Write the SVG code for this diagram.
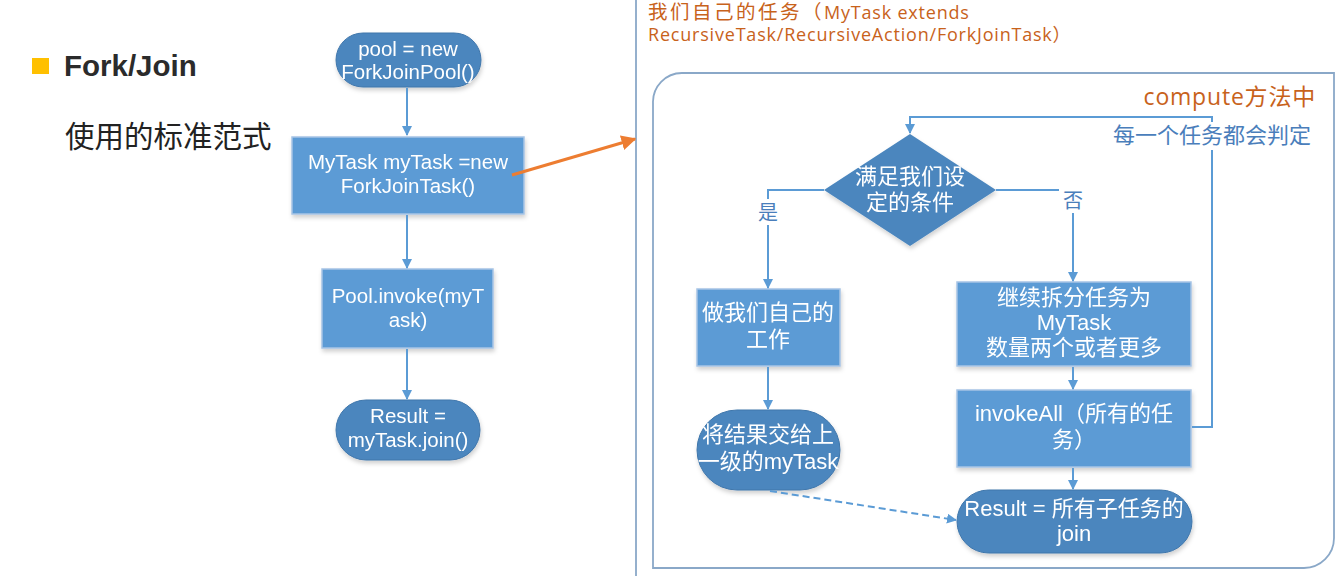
<svg xmlns="http://www.w3.org/2000/svg" width="1340" height="576" viewBox="0 0 1340 576">
<defs>
<style>
.box{fill:#5B9BD5;stroke:#A7C4E5;stroke-width:1.5}
.term{fill:#4B86BE;stroke:#3F76AB;stroke-width:1}
.t{font-family:"Liberation Sans","Noto Sans CJK SC",sans-serif;fill:#fff;text-anchor:middle;font-size:20.5px}
.c{font-family:"Liberation Sans","Noto Sans CJK SC",sans-serif;fill:#fff;text-anchor:middle;font-size:22px}
.ln{fill:none;stroke:#5B9BD5;stroke-width:2}
.or{font-family:"Open Sans","Noto Sans CJK SC",sans-serif;fill:#C8621B}
.lb{font-family:"Noto Sans CJK SC",sans-serif;fill:#4A7EBB;text-anchor:middle}
</style>
<marker id="ah" viewBox="0 0 10 10" refX="9" refY="5" markerWidth="5" markerHeight="5" orient="auto" markerUnits="strokeWidth">
<path d="M0,0 L10,5 L0,10 z" fill="#5B9BD5"/>
</marker>
<marker id="aho" viewBox="0 0 10 10" refX="9" refY="5" markerWidth="5" markerHeight="5" orient="auto" markerUnits="strokeWidth">
<path d="M0,0 L10,5 L0,10 z" fill="#ED7D31"/>
</marker>
<filter id="sh" x="-10%" y="-10%" width="130%" height="140%">
<feDropShadow dx="1" dy="3" stdDeviation="2" flood-color="#000" flood-opacity="0.18"/>
</filter>
</defs>
<rect width="1340" height="576" fill="#fff"/>

<g id="heading">
<rect x="32" y="58" width="17" height="16" fill="#FFC000"/>
<text x="64" y="76" font-family="Liberation Sans,sans-serif" font-weight="bold" font-size="29.5" fill="#2B2B2B">Fork/Join</text>
<text x="65" y="147" font-family="Liberation Serif,Noto Sans CJK SC,serif" font-size="29.5" fill="#222">使用的标准范式</text>
</g>

<g id="panel">
<line x1="636" y1="0" x2="636" y2="576" stroke="#8AA8C8" stroke-width="1.8"/>
<path d="M682,73 H1334 V538 A30,30 0 0 1 1304,568 H653 V103 A29,29 0 0 1 682,73 Z" fill="none" stroke="#8AA8C8" stroke-width="1.8"/>
<text class="or" x="648" y="18.5" font-size="19.5"><tspan letter-spacing="2.5">我们自己的任务（</tspan><tspan letter-spacing="0.8" font-size="18">MyTask extends</tspan></text>
<text class="or" x="648" y="41" font-size="18" letter-spacing="0.8">RecursiveTask/RecursiveAction/ForkJoinTask）</text>
<text class="or" x="1316" y="105" font-size="23" letter-spacing="0.8" text-anchor="end">compute方法中</text>
</g>

<g id="n-pool" filter="url(#sh)">
<rect class="term" x="336" y="33" width="145" height="54" rx="27"/>
<text class="t" x="408" y="56">pool = new</text>
<text class="t" x="408" y="79">ForkJoinPool()</text>
</g>
<g id="n-mytask" filter="url(#sh)">
<rect class="box" x="292" y="137" width="232" height="77"/>
<text class="t" x="408" y="169">MyTask myTask =new</text>
<text class="t" x="408" y="193">ForkJoinTask()</text>
</g>
<g id="n-invoke" filter="url(#sh)">
<rect class="box" x="322" y="269" width="171" height="79"/>
<text class="t" x="408" y="303">Pool.invoke(myT</text>
<text class="t" x="408" y="327">ask)</text>
</g>
<g id="n-result" filter="url(#sh)">
<rect class="term" x="336" y="400" width="144" height="60" rx="30"/>
<text class="t" x="408" y="423">Result =</text>
<text class="t" x="408" y="447">myTask.join()</text>
</g>

<g id="n-cond" filter="url(#sh)">
<polygon points="910,134 996,190 910,246 824,190" fill="#4B86BE"/>
<text class="c" x="910" y="184">满足我们设</text>
<text class="c" x="910" y="210">定的条件</text>
</g>
<g id="n-work" filter="url(#sh)">
<rect class="box" x="697" y="289" width="143" height="77"/>
<text class="c" x="768" y="320">做我们自己的</text>
<text class="c" x="768" y="347">工作</text>
</g>
<g id="n-give" filter="url(#sh)">
<rect class="term" x="697" y="410" width="143" height="80" rx="40"/>
<text class="c" x="768" y="442">将结果交给上</text>
<text class="c" x="768" y="469">一级的myTask</text>
</g>
<g id="n-split" filter="url(#sh)">
<rect class="box" x="957" y="282" width="234" height="84"/>
<text class="c" x="1074" y="305">继续拆分任务为</text>
<text class="c" x="1074" y="330">MyTask</text>
<text class="c" x="1074" y="355">数量两个或者更多</text>
</g>
<g id="n-invokeall" filter="url(#sh)">
<rect class="box" x="957" y="390" width="234" height="77"/>
<text class="c" x="1074" y="421">invokeAll（所有的任</text>
<text class="c" x="1074" y="447">务）</text>
</g>
<g id="n-join" filter="url(#sh)">
<rect class="term" x="957" y="490" width="235" height="63" rx="31.5"/>
<text class="c" x="1074" y="516">Result = 所有子任务的</text>
<text class="c" x="1074" y="541">join</text>
</g>

<g id="connectors">
<line class="ln" x1="407" y1="88" x2="407" y2="135" marker-end="url(#ah)"/>
<line class="ln" x1="407" y1="215" x2="407" y2="268" marker-end="url(#ah)"/>
<line class="ln" x1="407" y1="349" x2="407" y2="399" marker-end="url(#ah)"/>
<line x1="512" y1="175" x2="635" y2="139" stroke="#ED7D31" stroke-width="3" marker-end="url(#aho)"/>
<polyline class="ln" points="824,190 768,190 768,288" marker-end="url(#ah)"/>
<polyline class="ln" points="996,190 1073,190 1073,281" marker-end="url(#ah)"/>
<line class="ln" x1="768" y1="367" x2="768" y2="409" marker-end="url(#ah)"/>
<line class="ln" x1="1073" y1="367" x2="1073" y2="389" marker-end="url(#ah)"/>
<line class="ln" x1="1073" y1="468" x2="1073" y2="489" marker-end="url(#ah)"/>
<polyline class="ln" points="1192,427 1212,427 1212,117 910,117 910,133" marker-end="url(#ah)"/>
<line x1="770" y1="491" x2="956" y2="520" stroke="#5B9BD5" stroke-width="2" stroke-dasharray="7,4" marker-end="url(#ah)"/>
<rect x="754" y="199" width="28" height="26" fill="#fff"/>
<rect x="1059" y="187" width="28" height="26" fill="#fff"/>
<rect x="1104" y="122" width="216" height="28" fill="#fff"/>
<text class="lb" x="768" y="220" font-size="20">是</text>
<text class="lb" x="1073" y="208" font-size="20">否</text>
<text class="lb" x="1212" y="143" font-size="22">每一个任务都会判定</text>
</g>
</svg>
